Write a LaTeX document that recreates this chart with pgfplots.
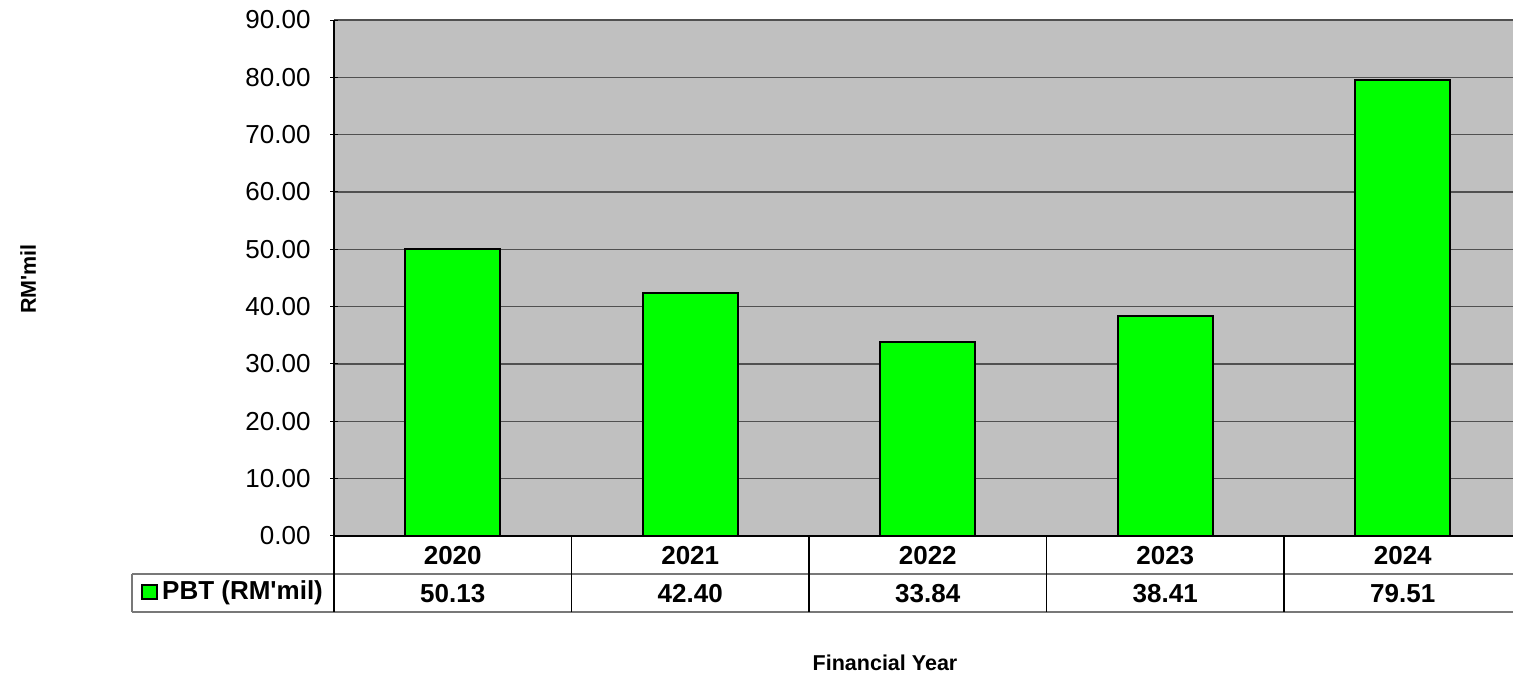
\documentclass[border=0pt]{standalone}
\usepackage{pgfplots}
\pgfplotsset{compat=1.18}
\usepackage{fontspec}
\setmainfont{Liberation Sans}[Ligatures=TeXOff]
\definecolor{barg}{RGB}{0,255,0}
\definecolor{plotbg}{RGB}{192,192,192}
\definecolor{gridc}{RGB}{80,80,80}
\definecolor{tabl}{RGB}{120,120,120}
\begin{document}
\begin{tikzpicture}[x=1pt,y=1pt]
\useasboundingbox (0,0) rectangle (1513,700);
\clip (0,0) rectangle (1513,700);
\begin{axis}[
  at={(334pt,164pt)}, anchor=south west,
  scale only axis, width=1187.5pt, height=516pt,
  xmin=-0.5, xmax=4.5, ymin=0, ymax=90,
  ytick={0,10,20,30,40,50,60,70,80,90},
  xtick=\empty,
  /pgf/number format/assume math mode=true,
  yticklabel style={/pgf/number format/.cd, fixed, fixed zerofill, precision=2, /tikz/.cd, xshift=-16pt},
  tick label style={font=\fontsize{26}{30}\selectfont},
  ytick pos=left, tick align=outside, major tick length=8pt,
  tick style={black, line width=1pt},
  axis x line=bottom, axis y line=left,
  axis line style={-, black, line width=1.2pt},
  axis background/.style={fill=plotbg},
  ymajorgrids, grid style={gridc, line width=1.3pt},
  ybar, bar width=0.4,
  clip=false,
]
\addplot[fill=barg, draw=black, line width=2pt] coordinates {
  (0,50.13) (1,42.40) (2,33.84) (3,38.41) (4,79.51)
};
\end{axis}
% data table
\draw[tabl, line width=1.3pt] (132,126) -- (1513,126);
\draw[tabl, line width=1.3pt] (132,88) -- (1513,88);
\draw[tabl, line width=1.3pt] (132,126) -- (132,88);
\foreach \xx in {334,571.5,809,1046.5,1284}
  \draw[black, line width=1.3pt] (\xx,164) -- (\xx,88);
\foreach \xx/\yr/\val in {452.75/2020/50.13, 690.25/2021/42.40, 927.75/2022/33.84, 1165.25/2023/38.41, 1402.75/2024/79.51} {
  \node[font=\fontsize{26}{30}\selectfont\bfseries] at (\xx,144) {\yr};
  \node[font=\fontsize{26}{30}\selectfont\bfseries] at (\xx,106) {\val};
}
\draw[black, line width=1.5pt, fill=barg] (142,101) rectangle (157,115);
\node[anchor=west, inner sep=0pt, font=\fontsize{26}{30}\selectfont\bfseries] at (162,107) {PBT (RM'mil)};
% axis titles
\node[rotate=90, font=\fontsize{21.5}{25}\selectfont\bfseries] at (28,421) {RM'mil};
\node[font=\fontsize{21.5}{25}\selectfont\bfseries] at (885,37) {Financial Year};
\end{tikzpicture}
\end{document}
